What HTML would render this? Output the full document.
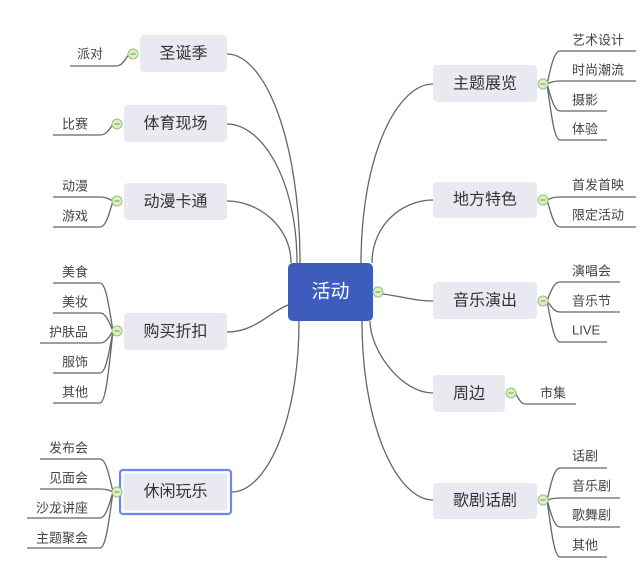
<!DOCTYPE html>
<html><head><meta charset="utf-8">
<style>
html,body{margin:0;padding:0;background:#fff;}
svg{display:block;}
text{font-family:"Liberation Sans","Noto Sans CJK SC",sans-serif;}
.n{font-size:16px;fill:#333;}
.l{font-size:13px;fill:#444;}
.c{fill:none;stroke:#666;stroke-width:1.3;}
.nb{fill:#e9e9f1;}
</style></head>
<body>
<svg width="640" height="567" viewBox="0 0 640 567" xmlns="http://www.w3.org/2000/svg">
<rect width="640" height="567" fill="#fff"/>
<!-- main connectors -->
<path class="c" d="M227,54 C264,54 300,138 300,263"/>
<path class="c" d="M227,124 C262,124 297,180 297,263"/>
<path class="c" d="M227,201 C258,201 291,226 291,263"/>
<path class="c" d="M227,332 C255,332 268,313 288,305"/>
<path class="c" d="M232,492 C265,492 299,424 299,321"/>
<path class="c" d="M433,84 C397,84 361,156 361,263"/>
<path class="c" d="M433,200 C402,200 372,225 372,263"/>
<path class="c" d="M383,294 C405,297 415,301 433,301"/>
<path class="c" d="M433,393 C401,393 370,350 370,321"/>
<path class="c" d="M433,500 C398,500 362,428 362,321"/>

<!-- left leaf connectors -->
<path class="c" d="M129,54 C125,60 122,66 116,66 L70,66"/>
<path class="c" d="M113,124 C109,130 106,135 100,135 L53,135"/>
<path class="c" d="M113,201 C109,199 106,197 100,197 L53,197"/>
<path class="c" d="M113,201 C109,214 106,227 100,227 L53,227"/>
<path class="c" d="M113,331 C109,307 106,283 100,283 L53,283"/>
<path class="c" d="M113,331 C109,322 106,313 100,313 L53,313"/>
<path class="c" d="M113,331 C109,337 106,343 100,343 L40,343"/>
<path class="c" d="M113,331 C109,352 106,373 100,373 L53,373"/>
<path class="c" d="M113,331 C109,367 106,403 100,403 L53,403"/>
<path class="c" d="M113,492 C109,475 106,459 100,459 L40,459"/>
<path class="c" d="M113,492 C109,490 106,489 100,489 L40,489"/>
<path class="c" d="M113,492 C109,505 106,518 100,518 L27,518"/>
<path class="c" d="M113,492 C109,520 106,548 100,548 L27,548"/>

<!-- right leaf connectors -->
<path class="c" d="M547,84 C551,67 554,51 560,51 L636,51"/>
<path class="c" d="M547,84 C551,82 554,81 560,81 L636,81"/>
<path class="c" d="M547,84 C551,97 554,111 560,111 L607,111"/>
<path class="c" d="M547,84 C551,112 554,140 560,140 L607,140"/>
<path class="c" d="M547,200 C551,198 554,197 560,197 L636,197"/>
<path class="c" d="M547,200 C551,213 554,227 560,227 L636,227"/>
<path class="c" d="M547,301 C551,291 554,282 560,282 L620,282"/>
<path class="c" d="M547,301 C551,306 554,312 560,312 L620,312"/>
<path class="c" d="M547,301 C551,321 554,342 560,342 L607,342"/>
<path class="c" d="M515,393 C519,398 520,404 526,404 L576,404"/>
<path class="c" d="M547,500 C551,484 554,468 560,468 L607,468"/>
<path class="c" d="M547,500 C551,499 554,498 560,498 L620,498"/>
<path class="c" d="M547,500 C551,513 554,527 560,527 L620,527"/>
<path class="c" d="M547,500 C551,528 554,557 560,557 L607,557"/>

<!-- nodes -->
<rect class="nb" x="140" y="35" width="87" height="37" rx="4"/>
<text class="n" x="183.5" y="54" text-anchor="middle" dominant-baseline="central">圣诞季</text>
<rect class="nb" x="124" y="105" width="103" height="37" rx="4"/>
<text class="n" x="175.5" y="124" text-anchor="middle" dominant-baseline="central">体育现场</text>
<rect class="nb" x="124" y="183" width="103" height="37" rx="4"/>
<text class="n" x="175.5" y="202" text-anchor="middle" dominant-baseline="central">动漫卡通</text>
<rect class="nb" x="124" y="313" width="103" height="37" rx="4"/>
<text class="n" x="175.5" y="332" text-anchor="middle" dominant-baseline="central">购买折扣</text>
<rect x="120" y="470" width="111" height="44" rx="3" fill="#fff" stroke="#6a86ef" stroke-width="2.2"/>
<rect class="nb" x="123.5" y="473.5" width="104" height="37" rx="3"/>
<text class="n" x="175.5" y="492" text-anchor="middle" dominant-baseline="central">休闲玩乐</text>

<rect class="nb" x="433" y="65" width="104" height="37" rx="4"/>
<text class="n" x="485" y="84" text-anchor="middle" dominant-baseline="central">主题展览</text>
<rect class="nb" x="433" y="182" width="104" height="36" rx="4"/>
<text class="n" x="485" y="200" text-anchor="middle" dominant-baseline="central">地方特色</text>
<rect class="nb" x="433" y="282" width="104" height="37" rx="4"/>
<text class="n" x="485" y="301" text-anchor="middle" dominant-baseline="central">音乐演出</text>
<rect class="nb" x="433" y="375" width="72" height="37" rx="4"/>
<text class="n" x="469" y="394" text-anchor="middle" dominant-baseline="central">周边</text>
<rect class="nb" x="433" y="483" width="104" height="36" rx="4"/>
<text class="n" x="485" y="501" text-anchor="middle" dominant-baseline="central">歌剧话剧</text>

<!-- central -->
<rect x="288" y="263" width="85" height="58" rx="5" fill="#3d5cbc"/>
<text x="330.5" y="292" text-anchor="middle" dominant-baseline="central" style="font-size:19px;fill:#fff;">活动</text>

<!-- leaf labels left -->
<text class="l" x="103" y="54" text-anchor="end" dominant-baseline="central">派对</text>
<text class="l" x="88" y="124" text-anchor="end" dominant-baseline="central">比赛</text>
<text class="l" x="88" y="186" text-anchor="end" dominant-baseline="central">动漫</text>
<text class="l" x="88" y="216" text-anchor="end" dominant-baseline="central">游戏</text>
<text class="l" x="88" y="272" text-anchor="end" dominant-baseline="central">美食</text>
<text class="l" x="88" y="302" text-anchor="end" dominant-baseline="central">美妆</text>
<text class="l" x="88" y="332" text-anchor="end" dominant-baseline="central">护肤品</text>
<text class="l" x="88" y="362" text-anchor="end" dominant-baseline="central">服饰</text>
<text class="l" x="88" y="392" text-anchor="end" dominant-baseline="central">其他</text>
<text class="l" x="88" y="448" text-anchor="end" dominant-baseline="central">发布会</text>
<text class="l" x="88" y="478" text-anchor="end" dominant-baseline="central">见面会</text>
<text class="l" x="88" y="508" text-anchor="end" dominant-baseline="central">沙龙讲座</text>
<text class="l" x="88" y="538" text-anchor="end" dominant-baseline="central">主题聚会</text>

<!-- leaf labels right -->
<text class="l" x="572" y="40" dominant-baseline="central">艺术设计</text>
<text class="l" x="572" y="70" dominant-baseline="central">时尚潮流</text>
<text class="l" x="572" y="100" dominant-baseline="central">摄影</text>
<text class="l" x="572" y="129" dominant-baseline="central">体验</text>
<text class="l" x="572" y="185" dominant-baseline="central">首发首映</text>
<text class="l" x="572" y="215" dominant-baseline="central">限定活动</text>
<text class="l" x="572" y="271" dominant-baseline="central">演唱会</text>
<text class="l" x="572" y="301" dominant-baseline="central">音乐节</text>
<text class="l" x="572" y="330" dominant-baseline="central">LIVE</text>
<text class="l" x="540" y="393" dominant-baseline="central">市集</text>
<text class="l" x="572" y="456" dominant-baseline="central">话剧</text>
<text class="l" x="572" y="486" dominant-baseline="central">音乐剧</text>
<text class="l" x="572" y="515" dominant-baseline="central">歌舞剧</text>
<text class="l" x="572" y="545" dominant-baseline="central">其他</text>

<!-- collapse circles -->
<g fill="#dcefc6" stroke="#93c36f" stroke-width="1">
<circle cx="133" cy="54" r="5"/>
<circle cx="117" cy="124" r="5"/>
<circle cx="117" cy="201" r="5"/>
<circle cx="117" cy="331" r="5"/>
<circle cx="117" cy="492" r="5"/>
<circle cx="543" cy="84" r="5"/>
<circle cx="543" cy="200" r="5"/>
<circle cx="543" cy="301" r="5"/>
<circle cx="511" cy="393" r="5"/>
<circle cx="543" cy="500" r="5"/>
<circle cx="378" cy="292" r="5"/>
</g>
<g stroke="#7a8a6a" stroke-width="1">
<line x1="130.5" y1="54" x2="135.5" y2="54"/>
<line x1="114.5" y1="124" x2="119.5" y2="124"/>
<line x1="114.5" y1="201" x2="119.5" y2="201"/>
<line x1="114.5" y1="331" x2="119.5" y2="331"/>
<line x1="114.5" y1="492" x2="119.5" y2="492"/>
<line x1="540.5" y1="84" x2="545.5" y2="84"/>
<line x1="540.5" y1="200" x2="545.5" y2="200"/>
<line x1="540.5" y1="301" x2="545.5" y2="301"/>
<line x1="508.5" y1="393" x2="513.5" y2="393"/>
<line x1="540.5" y1="500" x2="545.5" y2="500"/>
<line x1="375.5" y1="292" x2="380.5" y2="292"/>
</g>
</svg>
</body></html>
